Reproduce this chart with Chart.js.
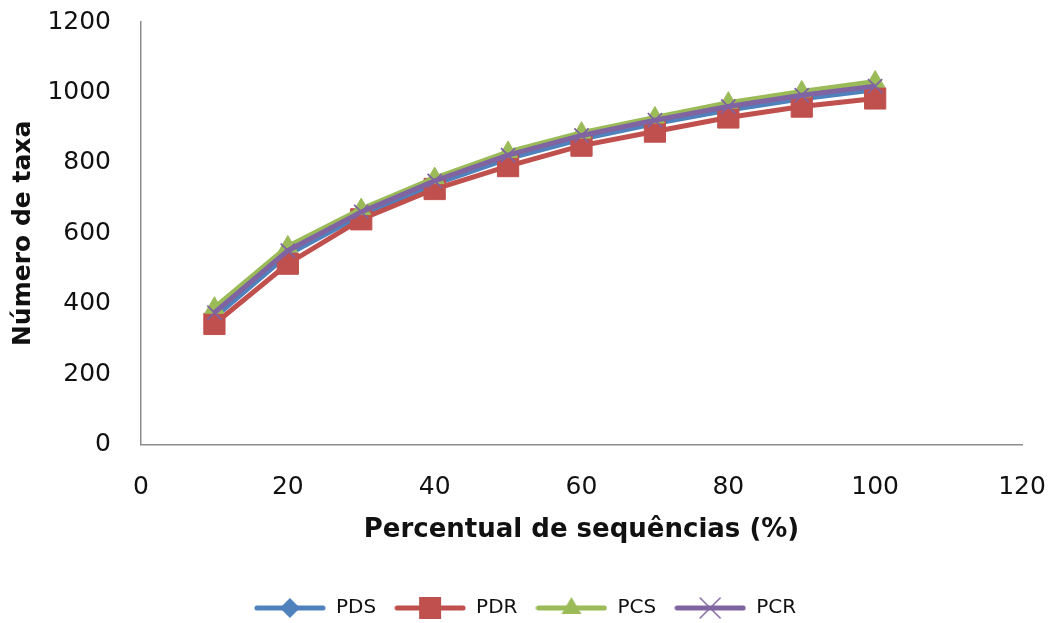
<!DOCTYPE html>
<html>
<head>
<meta charset="utf-8">
<script src="https://cdn.jsdelivr.net/npm/chart.js@4.4.1/dist/chart.umd.min.js"></script>
<style>
  html, body { margin: 0; padding: 0; background: #fff; }
  #wrap { width: 1050px; height: 623px; }
</style>
</head>
<body>
<div id="wrap"><canvas id="rarefChart" width="1050" height="623"></canvas></div>
<script>
// percent of sequences sampled
const percent = [10, 20, 30, 40, 50, 60, 70, 80, 90, 100]
// number of taxa observed per library
const pds = [362, 540, 652, 740, 812, 868, 912, 950, 982, 1008]
const pdr = [343, 514, 640, 726, 791, 849, 889, 929, 960, 983]
const pcs = [389, 563, 669, 757, 831, 886, 929, 971, 1003, 1031]
const pcr = [375, 551, 661, 749, 822, 878, 921, 960, 992, 1018]
const names = ['PDS', 'PDR', 'PCS', 'PCR']
const xTicks = [0, 20, 40, 60, 80, 100, 120]

const colours = ['#4F81BD', '#C0504D', '#9BBB59', '#8064A2']
const shapes = ['rectRot', 'rect', 'triangle', 'crossRot']
const radii = [9, 15, 11, 10]

function toPoints(ys) {
    return ys.map((y, i) => { return {x: percent[i], y: y} })
}

// little line + marker icon for the legend, like the office style key
function legendIcon(i) {
    let c = document.createElement('canvas')
    c.width = 72; c.height = 26
    let g = c.getContext('2d')
    g.strokeStyle = colours[i]; g.fillStyle = colours[i]
    g.lineWidth = 5; g.lineCap = 'round'
    g.beginPath(); g.moveTo(3, 13); g.lineTo(69, 13); g.stroke()
    g.lineWidth = 1.5
    let cx = 36, cy = 13
    if (shapes[i] === 'rectRot') {
        g.beginPath(); g.moveTo(cx, cy - 10); g.lineTo(cx + 10, cy); g.lineTo(cx, cy + 10); g.lineTo(cx - 10, cy); g.closePath(); g.fill()
    } else if (shapes[i] === 'rect') {
        g.fillRect(cx - 11, cy - 11, 22, 22)
    } else if (shapes[i] === 'triangle') {
        g.beginPath(); g.moveTo(cx, cy - 11); g.lineTo(cx + 10, cy + 6); g.lineTo(cx - 10, cy + 6); g.closePath(); g.fill()
    } else {
        g.beginPath(); g.moveTo(cx - 10, cy - 10); g.lineTo(cx + 10, cy + 10); g.moveTo(cx + 10, cy - 10); g.lineTo(cx - 10, cy + 10); g.stroke()
    }
    return c
}

const series = [pds, pdr, pcs, pcr]
const datasets = series.map((ys, i) => {
    return {
        label: names[i],
        data: toPoints(ys),
        borderColor: colours[i],
        backgroundColor: colours[i],
        borderWidth: 5,
        pointStyle: shapes[i],
        pointRadius: radii[i],
        pointBorderWidth: shapes[i] === 'crossRot' ? 1.8 : 1,
        pointBackgroundColor: colours[i],
        pointBorderColor: colours[i],
        tension: 0,
        order: 4 - i  // first series underneath, PCR on top
    }
})
const icons = names.map((n, i) => legendIcon(i))

const ctx = document.getElementById('rarefChart').getContext('2d')
const chart = new Chart(ctx, {
    type: 'line',
    data: { datasets: datasets },
    options: {
        responsive: false,
        animation: false,
        layout: { padding: { left: 0, right: 0, top: 0, bottom: -5 } },
        plugins: {
            tooltip: { enabled: false },
            legend: {
                position: 'bottom',
                labels: {
                    usePointStyle: true,
                    pointStyleWidth: 72,
                    padding: 18,
                    color: '#111',
                    font: { family: 'DejaVu Sans', size: 20 },
                    sort: (a, b) => a.datasetIndex - b.datasetIndex,
                    generateLabels: (ch) => ch.data.datasets.map((ds, i) => {
                        return { text: ds.label, pointStyle: icons[i], datasetIndex: i, fontColor: '#111', lineWidth: 0, strokeStyle: 'transparent', fillStyle: colours[i] }
                    })
                }
            }
        },
        scales: {
            x: {
                type: 'linear',
                min: 0, max: 120,
                afterBuildTicks: (s) => { s.ticks = xTicks.map(v => ({value: v})) },
                grid: { display: false, drawTicks: false },
                border: { display: true, color: '#8c8c8c', width: 1.5 },
                ticks: { color: '#111', padding: 28, maxRotation: 0, font: { family: 'DejaVu Sans', size: 25 } },
                title: { display: true, text: 'Percentual de sequências (%)', color: '#111', font: { family: 'DejaVu Sans', size: 26, weight: 'bold' }, padding: { top: -16, bottom: 34 } },
                afterFit: (s) => { s.paddingRight = 28 }
            },
            y: {
                min: 0, max: 1200,
                ticks: { stepSize: 200, color: '#111', padding: 30, font: { family: 'DejaVu Sans', size: 25 }, callback: (v) => String(v) },
                grid: { display: false, drawTicks: false },
                border: { display: true, color: '#8c8c8c', width: 1.5 },
                title: { display: true, text: 'Número de taxa', color: '#111', font: { family: 'DejaVu Sans', size: 25, weight: 'bold' }, padding: { top: 8, bottom: 0 } },
                afterFit: (s) => { s.width = 141; s.paddingTop = 22 }
            }
        }
    }
})
</script>
</body>
</html>
